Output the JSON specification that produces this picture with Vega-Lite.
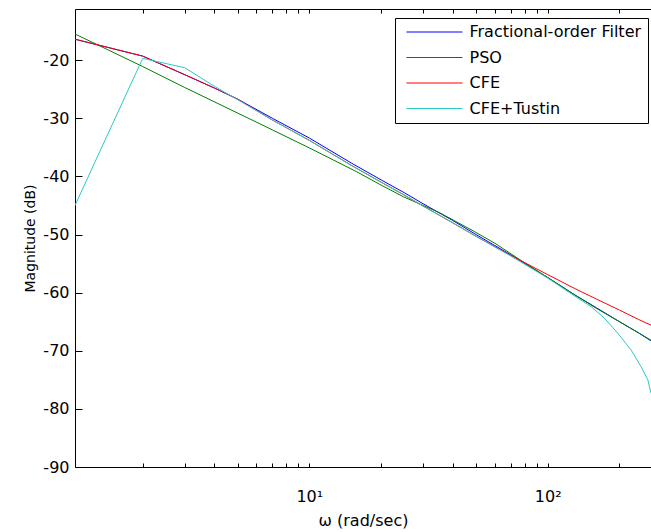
{
  "$schema": "https://vega.github.io/schema/vega-lite/v6.json",
  "width": 576,
  "height": 458,
  "autosize": {"type": "none"},
  "padding": {"left": 75, "top": 9, "right": 0, "bottom": 65},
  "background": "white",
  "config": {"view": {"stroke": null}, "font": "DejaVu Sans"},
  "datasets": {
    "bode": [
      {"series": "Fractional-order Filter", "w": 1.04, "mag": -16.4},
      {"series": "Fractional-order Filter", "w": 2, "mag": -19.3},
      {"series": "Fractional-order Filter", "w": 3, "mag": -22.5},
      {"series": "Fractional-order Filter", "w": 4, "mag": -24.8},
      {"series": "Fractional-order Filter", "w": 5, "mag": -26.7},
      {"series": "Fractional-order Filter", "w": 7, "mag": -30.0},
      {"series": "Fractional-order Filter", "w": 10, "mag": -33.4},
      {"series": "Fractional-order Filter", "w": 15, "mag": -37.7},
      {"series": "Fractional-order Filter", "w": 20, "mag": -40.6},
      {"series": "Fractional-order Filter", "w": 25, "mag": -42.8},
      {"series": "Fractional-order Filter", "w": 30, "mag": -44.7},
      {"series": "Fractional-order Filter", "w": 40, "mag": -47.6},
      {"series": "Fractional-order Filter", "w": 50, "mag": -50.0},
      {"series": "Fractional-order Filter", "w": 70, "mag": -53.5},
      {"series": "Fractional-order Filter", "w": 100, "mag": -57.4},
      {"series": "Fractional-order Filter", "w": 130, "mag": -60.4},
      {"series": "Fractional-order Filter", "w": 160, "mag": -62.6},
      {"series": "Fractional-order Filter", "w": 200, "mag": -65.0},
      {"series": "Fractional-order Filter", "w": 240, "mag": -66.9},
      {"series": "Fractional-order Filter", "w": 271.2, "mag": -68.3},
      {"series": "PSO", "w": 1.04, "mag": -15.5},
      {"series": "PSO", "w": 2, "mag": -21.1},
      {"series": "PSO", "w": 3, "mag": -24.7},
      {"series": "PSO", "w": 5, "mag": -29.1},
      {"series": "PSO", "w": 7, "mag": -32.0},
      {"series": "PSO", "w": 10, "mag": -35.1},
      {"series": "PSO", "w": 15.8, "mag": -39.2},
      {"series": "PSO", "w": 20, "mag": -41.5},
      {"series": "PSO", "w": 24.8, "mag": -43.5},
      {"series": "PSO", "w": 30, "mag": -45.0},
      {"series": "PSO", "w": 35.4, "mag": -46.3},
      {"series": "PSO", "w": 48.8, "mag": -49.4},
      {"series": "PSO", "w": 60, "mag": -51.5},
      {"series": "PSO", "w": 78.9, "mag": -54.7},
      {"series": "PSO", "w": 100, "mag": -57.4},
      {"series": "PSO", "w": 130, "mag": -60.4},
      {"series": "PSO", "w": 160, "mag": -62.7},
      {"series": "PSO", "w": 200, "mag": -65.0},
      {"series": "PSO", "w": 240, "mag": -66.9},
      {"series": "PSO", "w": 271.2, "mag": -68.2},
      {"series": "CFE", "w": 1.04, "mag": -16.4},
      {"series": "CFE", "w": 2, "mag": -19.3},
      {"series": "CFE", "w": 3, "mag": -22.5},
      {"series": "CFE", "w": 4, "mag": -24.8},
      {"series": "CFE", "w": 5, "mag": -26.7},
      {"series": "CFE", "w": 7, "mag": -30.3},
      {"series": "CFE", "w": 10, "mag": -33.8},
      {"series": "CFE", "w": 15, "mag": -38.1},
      {"series": "CFE", "w": 20, "mag": -41.0},
      {"series": "CFE", "w": 25, "mag": -43.2},
      {"series": "CFE", "w": 30, "mag": -45.1},
      {"series": "CFE", "w": 40, "mag": -48.0},
      {"series": "CFE", "w": 50, "mag": -50.3},
      {"series": "CFE", "w": 70, "mag": -53.6},
      {"series": "CFE", "w": 100, "mag": -56.9},
      {"series": "CFE", "w": 130, "mag": -59.3},
      {"series": "CFE", "w": 160, "mag": -61.1},
      {"series": "CFE", "w": 200, "mag": -63.0},
      {"series": "CFE", "w": 240, "mag": -64.6},
      {"series": "CFE", "w": 271.2, "mag": -65.6},
      {"series": "CFE+Tustin", "w": 1.04, "mag": -45.0},
      {"series": "CFE+Tustin", "w": 2, "mag": -19.7},
      {"series": "CFE+Tustin", "w": 3, "mag": -21.3},
      {"series": "CFE+Tustin", "w": 4, "mag": -24.5},
      {"series": "CFE+Tustin", "w": 5, "mag": -26.8},
      {"series": "CFE+Tustin", "w": 7, "mag": -30.3},
      {"series": "CFE+Tustin", "w": 10, "mag": -33.8},
      {"series": "CFE+Tustin", "w": 15, "mag": -38.1},
      {"series": "CFE+Tustin", "w": 20, "mag": -41.0},
      {"series": "CFE+Tustin", "w": 25, "mag": -43.2},
      {"series": "CFE+Tustin", "w": 30, "mag": -45.1},
      {"series": "CFE+Tustin", "w": 40, "mag": -48.0},
      {"series": "CFE+Tustin", "w": 50, "mag": -50.3},
      {"series": "CFE+Tustin", "w": 70, "mag": -53.7},
      {"series": "CFE+Tustin", "w": 100, "mag": -57.5},
      {"series": "CFE+Tustin", "w": 130, "mag": -60.6},
      {"series": "CFE+Tustin", "w": 152, "mag": -62.4},
      {"series": "CFE+Tustin", "w": 173, "mag": -64.4},
      {"series": "CFE+Tustin", "w": 197, "mag": -67.0},
      {"series": "CFE+Tustin", "w": 224, "mag": -69.9},
      {"series": "CFE+Tustin", "w": 246, "mag": -72.7},
      {"series": "CFE+Tustin", "w": 263, "mag": -75.0},
      {"series": "CFE+Tustin", "w": 271.2, "mag": -77.3}
    ]
  },
  "data": {"name": "bode"},
  "layer": [
    {
      "mark": {"type": "line", "strokeWidth": 1, "clip": true},
      "encoding": {
        "x": {
          "field": "w",
          "type": "quantitative",
          "scale": {"type": "log", "domain": [1.04, 271.2], "nice": false},
          "axis": {
            "orient": "bottom",
            "title": "ω (rad/sec)",
            "values": [2, 3, 4, 5, 6, 7, 8, 9, 10, 20, 30, 40, 50, 60, 70, 80, 90, 100, 200],
            "labelExpr": "datum.value == 10 ? '10¹' : (datum.value == 100 ? '10²' : '')",
            "grid": false,
            "ticks": true,
            "tickSize": -4,
            "tickColor": "black",
            "tickWidth": 1,
            "domainColor": "black",
            "domainWidth": 1,
            "labelFont": "DejaVu Sans",
            "labelFontSize": 16,
            "labelColor": "black",
            "labelPadding": 25,
            "labelFlush": false,
            "labelOverlap": false,
            "titleFont": "DejaVu Sans",
            "titleFontSize": 16,
            "titleFontWeight": "normal",
            "titleColor": "black",
            "titlePadding": 8
          }
        },
        "y": {
          "field": "mag",
          "type": "quantitative",
          "scale": {"domain": [-90, -11.2], "nice": false, "zero": false},
          "axis": {
            "orient": "left",
            "title": "Magnitude  (dB)",
            "values": [-90, -80, -70, -60, -50, -40, -30, -20],
            "labelExpr": "'' + datum.value",
            "grid": false,
            "ticks": true,
            "tickSize": -7,
            "tickColor": "black",
            "tickWidth": 1,
            "domainColor": "black",
            "domainWidth": 1,
            "labelFont": "DejaVu Sans",
            "labelFontSize": 16,
            "labelColor": "black",
            "labelPadding": 13,
            "labelFlush": false,
            "labelOverlap": false,
            "titleFont": "DejaVu Sans",
            "titleFontSize": 14,
            "titleFontWeight": "normal",
            "titleColor": "black",
            "titlePadding": 5
          }
        },
        "color": {
          "field": "series",
          "type": "nominal",
          "scale": {
            "domain": ["Fractional-order Filter", "PSO", "CFE", "CFE+Tustin"],
            "range": ["#0000ff", "#008000", "#ff0000", "#2cc8c8"]
          },
          "legend": {
            "orient": "none",
            "legendX": 320,
            "legendY": 9,
            "title": null,
            "symbolType": "M-0.36,0H7.64",
            "symbolSize": 196,
            "symbolStrokeWidth": 1,
            "symbolOffset": 0,
            "labelOffset": 52.5,
            "labelLimit": 400,
            "labelFont": "DejaVu Sans",
            "labelFontSize": 16,
            "labelColor": "black",
            "strokeColor": "black",
            "fillColor": "white",
            "padding": 6,
            "rowPadding": 9.5,
            "cornerRadius": 0
          }
        }
      }
    },
    {
      "mark": {"type": "rule", "opacity": 0},
      "encoding": {
        "x": {
          "field": "w",
          "type": "quantitative",
          "axis": {
            "orient": "top",
            "title": null,
            "labels": false,
            "values": [2, 3, 4, 5, 6, 7, 8, 9, 10, 20, 30, 40, 50, 60, 70, 80, 90, 100, 200],
            "grid": false,
            "ticks": true,
            "tickSize": -4,
            "tickColor": "black",
            "tickWidth": 1,
            "domainColor": "black",
            "domainWidth": 1
          }
        }
      }
    }
  ],
  "resolve": {"axis": {"x": "independent"}}
}
